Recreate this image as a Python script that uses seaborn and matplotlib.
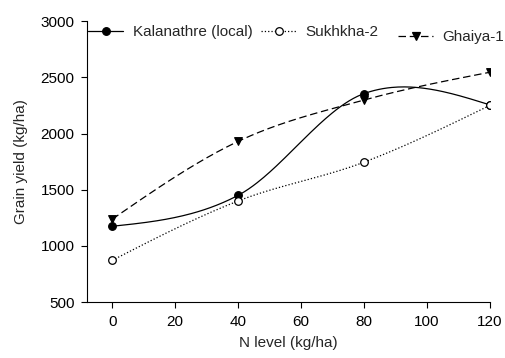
import numpy as np
import pandas as pd
import matplotlib
matplotlib.use("Agg")
import matplotlib.pyplot as plt
import seaborn as sns
from matplotlib.lines import Line2D

n_level = [0, 40, 80, 120]
kalanathre = [1175, 1450, 2355, 2255]
sukhkha = [872, 1400, 1745, 2250]
ghaiya = [1238, 1930, 2298, 2545]
x_ticks = [0, 20, 40, 60, 80, 100, 120]
y_ticks = [500, 1000, 1500, 2000, 2500, 3000]


def smooth_curve(x, y, n=60):
    """Cardinal (Catmull-Rom style) Hermite spline through the data points."""
    x = np.asarray(x, float)
    y = np.asarray(y, float)
    k = len(x)
    d = np.diff(y) / np.diff(x)
    m = np.zeros(k)
    for i in range(1, k - 1):
        m[i] = (y[i + 1] - y[i - 1]) / (x[i + 1] - x[i - 1])
    m[0] = (3 * d[0] - m[1]) / 2
    m[-1] = (3 * d[-1] - m[-2]) / 2
    xs_all, ys_all = [], []
    for i in range(k - 1):
        h = x[i + 1] - x[i]
        t = np.linspace(0, 1, n)
        h00 = 2 * t ** 3 - 3 * t ** 2 + 1
        h10 = t ** 3 - 2 * t ** 2 + t
        h01 = -2 * t ** 3 + 3 * t ** 2
        h11 = t ** 3 - t ** 2
        ys = h00 * y[i] + h10 * h * m[i] + h01 * y[i + 1] + h11 * h * m[i + 1]
        xs = x[i] + t * h
        if i > 0:
            xs, ys = xs[1:], ys[1:]
        xs_all.append(xs)
        ys_all.append(ys)
    return np.concatenate(xs_all), np.concatenate(ys_all)


sns.set_theme(style="ticks")
plt.rcParams["font.family"] = ["Liberation Sans", "DejaVu Sans"]

FS = 11
fig = plt.figure(figsize=(5.06, 3.58), dpi=100)
ax = fig.add_axes([0.172, 0.156, 0.796, 0.785])

series = [
    ("Kalanathre (local)", kalanathre, "-", "o", "black"),
    ("Sukhkha-2", sukhkha, ":", "o", "white"),
    ("Ghaiya-1", ghaiya, (0, (6, 3)), "v", "black"),
]

handles = []
for name, vals, ls, mk, fc in series:
    xs, ys = smooth_curve(n_level, vals)
    curve = pd.DataFrame({"x": xs, "y": ys})
    sns.lineplot(data=curve, x="x", y="y", ax=ax, color="black",
                 linewidth=0.9, linestyle=ls, legend=False, sort=False)
    pts = pd.DataFrame({"x": n_level, "y": vals})
    sns.scatterplot(data=pts, x="x", y="y", ax=ax, marker=mk, s=30,
                    color=fc, edgecolor="black", linewidth=0.9, zorder=5,
                    legend=False)
    handles.append(Line2D([], [], color="black", linestyle=ls, linewidth=0.9,
                          marker=mk, markersize=5.5, markerfacecolor=fc,
                          markeredgecolor="black", markeredgewidth=0.9))

ax.set_xlim(-8, 120)
ax.set_ylim(500, 3000)
ax.set_xticks(x_ticks)
ax.set_yticks(y_ticks)
ax.tick_params(labelsize=FS, length=4, width=0.8, color="black",
               labelcolor="black", pad=5)
for s in ["left", "bottom"]:
    ax.spines[s].set_linewidth(0.8)
    ax.spines[s].set_color("black")
sns.despine(ax=ax)
ax.set_xlabel("N level (kg/ha)", fontsize=FS, labelpad=5)
ax.set_ylabel("Grain yield (kg/ha)", fontsize=FS, labelpad=9)

names = [s[0] for s in series]
leg1 = ax.legend(handles[:2], names[:2], ncol=2, frameon=False,
                 loc="center left", bbox_to_anchor=(0.003, 0.961), fontsize=FS,
                 handlelength=2.3, columnspacing=0.6, handletextpad=0.6,
                 borderaxespad=0, borderpad=0)
ax.add_artist(leg1)
ax.legend(handles[2:], names[2:], frameon=False,
          loc="center left", bbox_to_anchor=(0.772, 0.943), fontsize=FS,
          handlelength=2.3, handletextpad=0.6,
          borderaxespad=0, borderpad=0)

fig.savefig("out.png", dpi=100)
